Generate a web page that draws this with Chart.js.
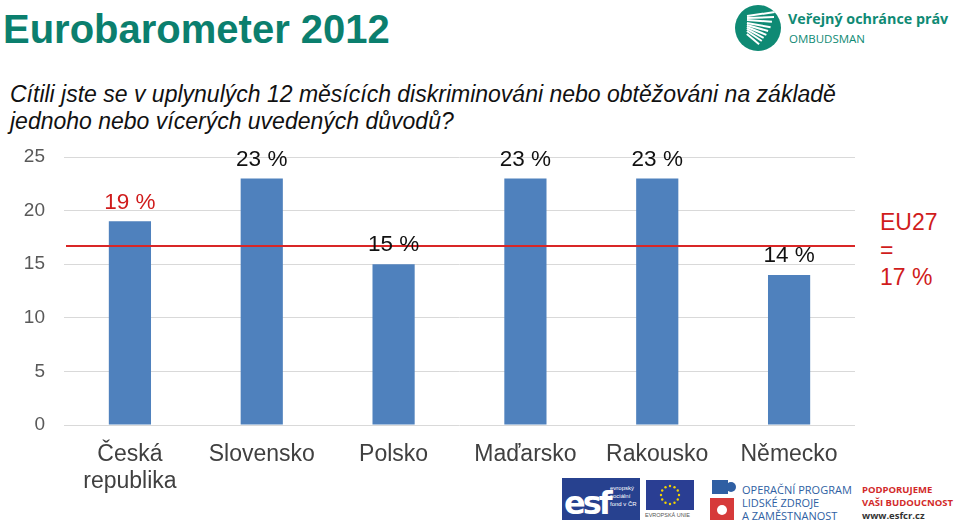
<!DOCTYPE html>
<html lang="cs">
<head>
  <meta charset="UTF-8" />
  <title>Eurobarometer 2012</title>
  <script src="https://cdn.jsdelivr.net/npm/chart.js"></script>
  <style>
    body {
      margin: 0;
      padding: 0;
      background: #fff;
      font-family: "Liberation Sans", Arial, sans-serif;
    }

    .page {
      position: relative;
      width: 959px;
      height: 521px;
      overflow: hidden;
    }

    .title {
      position: absolute;
      left: 3px;
      top: 7px;
      font-size: 40px;
      font-weight: bold;
      color: #0b7f6e;
    }

    .question {
      position: absolute;
      left: 10px;
      top: 81px;
      font-size: 23px;
      line-height: 27px;
      font-style: italic;
      color: #111;
      white-space: nowrap;
    }

    .eu {
      position: absolute;
      left: 880px;
      top: 209px;
      font-size: 23px;
      line-height: 27.5px;
      color: #d01c1c;
    }

    .ombudsman {
      position: absolute;
      left: 735px;
      top: 5px;
    }
    .ombudsman .circle {
      position: absolute;
      left: 0;
      top: 0;
      width: 46px;
      height: 46px;
      border-radius: 50%;
      background: #0f8a74;
      overflow: hidden;
    }
    .ombudsman .circle i {
      position: absolute;
      height: 1.5px;
      background: #fff;
      transform-origin: left center;
    }
    .ombudsman .name {
      position: absolute;
      left: 53px;
      top: 4px;
      white-space: nowrap;
      font-family: "Open Sans", sans-serif;
      font-weight: bold;
      font-size: 14.3px;
      color: #0f8a74;
    }
    .ombudsman .sub {
      position: absolute;
      left: 54px;
      top: 26px;
      font-family: "Open Sans", sans-serif;
      font-size: 11.5px;
      color: #0f8a74;
    }

    .esf {
      position: absolute;
      left: 562px;
      top: 478px;
      width: 78px;
      height: 42px;
      background: #27418f;
      color: #fff;
    }
    .esf b {
      position: absolute;
      left: 2px;
      top: 6px;
      font-size: 32px;
      font-family: "DejaVu Sans", sans-serif;
      letter-spacing: -3px;
    }
    .esf span {
      position: absolute;
      left: 48px;
      top: 6px;
      font-size: 6px;
      line-height: 8px;
      color: #fff;
    }
    .flag {
      position: absolute;
      left: 646px;
      top: 480px;
      width: 48px;
      height: 30px;
      background: #2a3e93;
    }
    .flag-text {
      position: absolute;
      left: 645px;
      top: 512px;
      font-size: 5.5px;
      color: #555;
      white-space: nowrap;
    }
    .puzzle {
      position: absolute;
      left: 710px;
      top: 480px;
    }
    .op {
      position: absolute;
      left: 742px;
      top: 483px;
      font-size: 11px;
      line-height: 13px;
      color: #2f5fa3;
      font-family: "Open Sans", sans-serif;
      white-space: nowrap;
    }
    .support {
      position: absolute;
      left: 862px;
      top: 483px;
      font-size: 9.5px;
      line-height: 13px;
      font-weight: bold;
      font-family: "Open Sans", sans-serif;
      color: #d22a2a;
      white-space: nowrap;
    }
    .support .web {
      color: #333;
    }

    #chartEuro {
      position: absolute;
      left: 0;
      top: 0;
    }
  </style>
</head>
<body>
<div class="page">
  <div class="title">Eurobarometer 2012</div>
  <div class="question">Cítili jste se v uplynulých 12 měsících diskriminováni nebo obtěžováni na základě<br>jednoho nebo vícerých uvedených důvodů?</div>

  <div class="ombudsman">
    <div class="circle" id="circle"></div>
    <div class="name">Veřejný ochránce práv</div>
    <div class="sub">OMBUDSMAN</div>
  </div>

  <div class="esf"><b>esf</b><span>evropský<br>sociální<br>fond v ČR</span></div>
  <div class="flag"><canvas id="flag" width="48" height="30"></canvas></div>
  <div class="flag-text">EVROPSKÁ UNIE</div>
  <div class="puzzle">
    <svg width="28" height="40">
      <rect x="2" y="0" width="16" height="14" fill="#2f5fa3"></rect>
      <circle cx="21" cy="7" r="5" fill="#2f5fa3"></circle>
      <rect x="0" y="18" width="24" height="22" fill="#d63a3a"></rect>
      <circle cx="12" cy="30" r="5" fill="#fff"></circle>
    </svg>
  </div>
  <div class="op">OPERAČNÍ PROGRAM<br>LIDSKÉ ZDROJE<br>A ZAMĚSTNANOST</div>
  <div class="support">PODPORUJEME<br>VAŠI BUDOUCNOST<br><span class="web">www.esfcr.cz</span></div>

  <div class="eu">EU27<br>=<br>17 %</div>

  <canvas id="chartEuro" width="959" height="521"></canvas>
</div>

<script>
  const countries = [['Česká', 'republika'], 'Slovensko', 'Polsko', 'Maďarsko', 'Rakousko', 'Německo'];
  const shares = [19, 23, 15, 23, 23, 14];
  const labelColors = ['#d01c1c', '#111', '#111', '#111', '#111', '#111'];
  const euAverage = 16.7;

  // white stripes in the ombudsman circle
  const circle = document.getElementById('circle');
  for (let i = 0; i < 9; i++) {
    const s = document.createElement('i');
    s.style.left = '12px';
    s.style.top = (10 + i * 2.2) + 'px';
    s.style.width = (28 - i * 1.5) + 'px';
    s.style.transform = 'rotate(' + (-8 + i * 6) + 'deg)';
    circle.appendChild(s);
  }

  // EU flag stars
  const fctx = document.getElementById('flag').getContext('2d');
  fctx.fillStyle = '#f2d200';
  for (let i = 0; i < 12; i++) {
    const a = i * Math.PI / 6;
    fctx.beginPath();
    fctx.arc(24 + 9 * Math.cos(a), 15 + 9 * Math.sin(a), 1.2, 0, Math.PI * 2);
    fctx.fill();
  }

  const euLine = {
    id: 'euLine',
    afterDatasetsDraw(chart) {
      const { ctx, chartArea, scales } = chart;
      const y = scales.y.getPixelForValue(euAverage);
      ctx.save();
      ctx.strokeStyle = '#d92626';
      ctx.lineWidth = 2;
      ctx.beginPath();
      ctx.moveTo(chartArea.left + 2, y);
      ctx.lineTo(chartArea.right, y);
      ctx.stroke();
      ctx.restore();
    }
  };

  const barLabels = {
    id: 'barLabels',
    afterDraw(chart) {
      const { ctx } = chart;
      const meta = chart.getDatasetMeta(0);
      ctx.save();
      ctx.font = '22.5px "Liberation Sans", Arial, sans-serif';
      ctx.textAlign = 'center';
      ctx.textBaseline = 'middle';
      meta.data.forEach((bar, i) => {
        ctx.fillStyle = labelColors[i];
        ctx.fillText(shares[i] + ' %', bar.x, bar.y - 19);
      });
      ctx.restore();
    }
  };

  const ctx = document.getElementById('chartEuro').getContext('2d');
  const chart = new Chart(ctx, {
    type: 'bar',
    data: {
      labels: countries,
      datasets: [{
        data: shares,
        backgroundColor: '#4f81bd',
        categoryPercentage: 1,
        barPercentage: 0.32
      }]
    },
    options: {
      responsive: false,
      animation: false,
      layout: {
        padding: { top: 157, right: 104, bottom: 0, left: 0 }
      },
      plugins: {
        legend: { display: false },
        tooltip: { enabled: false }
      },
      scales: {
        y: {
          min: 0,
          max: 25,
          afterFit: (scale) => { scale.width = 64; },
          border: { display: false },
          grid: { color: '#d9d9d9', drawTicks: false },
          ticks: {
            stepSize: 5,
            padding: 19,
            color: '#595959',
            font: { size: 19, family: '"Liberation Sans", Arial, sans-serif' }
          }
        },
        x: {
          afterFit: (scale) => { scale.height = 96; },
          border: { display: false },
          grid: { display: false },
          ticks: {
            padding: 8,
            color: '#404040',
            font: { size: 23, family: '"Liberation Sans", Arial, sans-serif', lineHeight: 1.18 }
          }
        }
      }
    },
    plugins: [euLine, barLabels]
  });
</script>
</body>
</html>
